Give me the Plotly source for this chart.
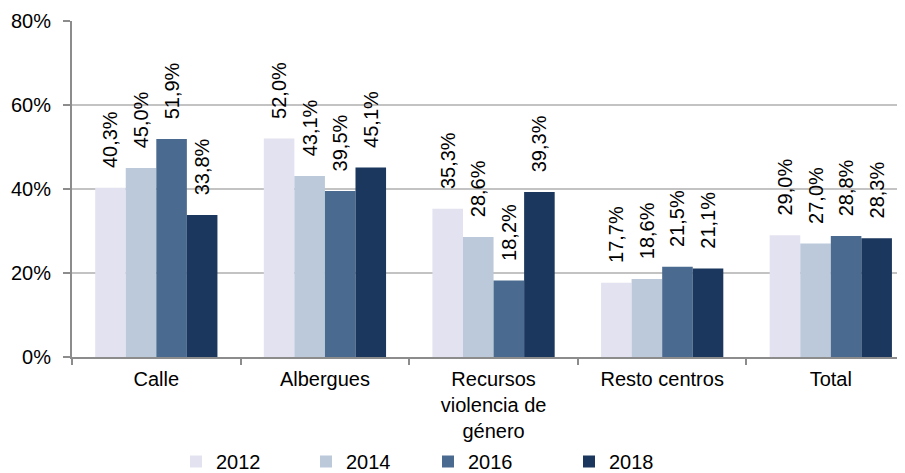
import plotly.graph_objects as go

categories = ["Calle", "Albergues", "Recursos<br>violencia de<br>género", "Resto centros", "Total"]
series_names = ["2012", "2014", "2016", "2018"]
v2012 = [40.3, 52.0, 35.3, 17.7, 29.0]
v2014 = [45.0, 43.1, 28.6, 18.6, 27.0]
v2016 = [51.9, 39.5, 18.2, 21.5, 28.8]
v2018 = [33.8, 45.1, 39.3, 21.1, 28.3]
series_values = [v2012, v2014, v2016, v2018]
colors = ["#E3E2F0", "#BCC9DB", "#4A6A8F", "#1B375D"]
y_ticks = [0, 20, 40, 60, 80]
y_tick_labels = ["0%", "20%", "40%", "60%", "80%"]

FONT = "Liberation Sans, Arial, sans-serif"
legend_ids = ["legend", "legend2", "legend3", "legend4"]
legend_x = [168, 298, 420, 561]

fig = go.Figure()
for name, vals, col, lid in zip(series_names, series_values, colors, legend_ids):
    fig.add_trace(go.Bar(
        x=categories, y=vals, name=name, legend=lid,
        marker=dict(color=col, line=dict(width=0)),
        text=["\u00a0\u00a0\u00a0" + f"{v:.1f}".replace(".", ",") + "%" for v in vals],
        textposition="outside", textangle=-90,
        textfont=dict(family=FONT, size=20, color="#000000"),
        constraintext="none", cliponaxis=False,
    ))

legends = {}
for lid, lx in zip(legend_ids, legend_x):
    legends[lid] = dict(orientation="h", x=lx / 905, xref="container", xanchor="left",
                        y=0, yref="container", yanchor="bottom",
                        font=dict(family=FONT, size=20, color="#000000"),
                        itemclick=False, bgcolor="rgba(0,0,0,0)")

fig.update_layout(
    width=905, height=473,
    margin=dict(l=64, r=8, t=13, b=124, autoexpand=False),
    paper_bgcolor="white", plot_bgcolor="white",
    barmode="group", bargap=0.275, bargroupgap=0,
    font=dict(family=FONT, size=20, color="#000000"),
    showlegend=True,
    xaxis=dict(range=[-0.5, 4.44], showgrid=False, showline=True,
               linecolor="#8C8C8C", linewidth=2, automargin=False,
               ticks="outside", tickson="boundaries", ticklen=6,
               tickcolor="#8C8C8C", tickwidth=2, ticklabelstandoff=3,
               tickfont=dict(family=FONT, size=20, color="#000000")),
    yaxis=dict(range=[0, 80], tickvals=y_ticks, ticktext=y_tick_labels,
               showgrid=True, gridcolor="#C3C3C3", gridwidth=2,
               showline=True, linecolor="#8C8C8C", linewidth=2, automargin=False,
               ticks="outside", ticklen=7, tickcolor="#8C8C8C", tickwidth=2,
               ticklabelstandoff=8, zeroline=False,
               tickfont=dict(family=FONT, size=20, color="#000000")),
    **legends,
)

fig.write_html("out.html")
